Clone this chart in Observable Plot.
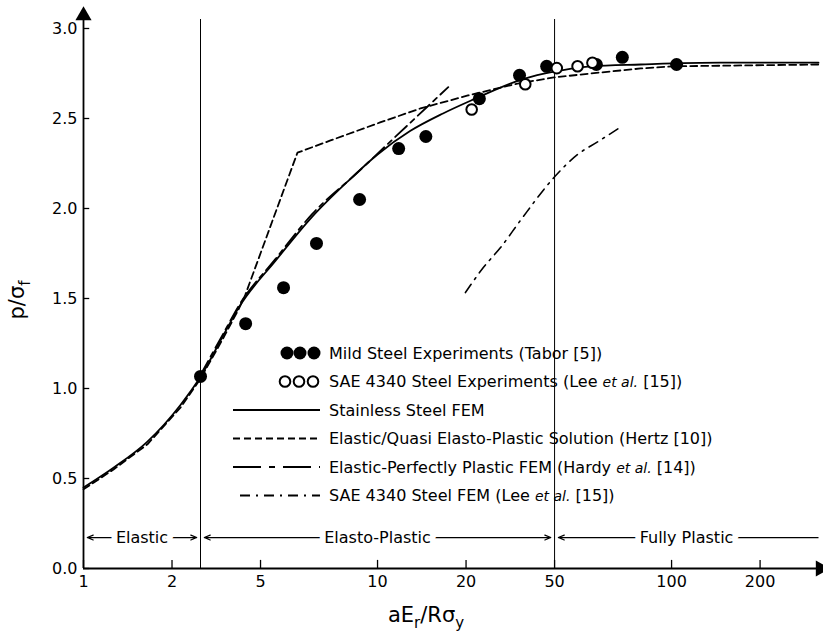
<!DOCTYPE html>
<html>
<head>
<meta charset="utf-8">
<script src="https://cdn.jsdelivr.net/npm/d3@7"></script>
<script src="https://cdn.jsdelivr.net/npm/@observablehq/plot@0.6"></script>
<style>
  body { margin: 0; background: #fff; }
  #chart { width: 823px; height: 640px; }
</style>
</head>
<body>
<div id="chart"></div>
<script>
// ---- Axis ticks (as printed on the reference) ----
const xTickValues = [1, 2, 4, 10, 20, 40, 100, 200];
const xTickLabels = ["1", "2", "5", "10", "20", "50", "100", "200"];
const yTickValues = [0, 0.5, 1, 1.5, 2, 2.5, 3];
const yTickLabels = ["0.0", "0.5", "1.0", "1.5", "2.0", "2.5", "3.0"];

// ---- Experiments ----
const mildX = [2.5, 3.56, 4.79, 6.2, 8.69, 11.8, 14.6, 22.2, 30.4, 37.6, 55.5, 68, 104];
const mildY = [1.067, 1.36, 1.56, 1.806, 2.05, 2.333, 2.40, 2.61, 2.74, 2.79, 2.80, 2.84, 2.80];
const saeX = [20.9, 31.8, 40.7, 47.9, 53.8];
const saeY = [2.55, 2.69, 2.78, 2.79, 2.81];

// ---- FEM / theory curves ----
const stainlessX = [1, 1.265, 1.65, 2.14, 2.5, 3.0, 3.38, 4.5, 6.0, 7.91, 10, 12.9, 16.7, 20.8, 31.4, 39.8, 53, 78.5, 147, 316];
const stainlessY = [0.45, 0.56, 0.705, 0.91, 1.065, 1.30, 1.452, 1.71, 1.955, 2.15, 2.30, 2.43, 2.528, 2.60, 2.72, 2.76, 2.79, 2.80, 2.81, 2.81];
const hertzX = [1, 1.265, 1.65, 2.14, 2.5, 3.0, 3.38, 3.55, 5.34, 6.92, 10.2, 14.0, 20.3, 29.9, 39.8, 53, 78.5, 101, 316];
const hertzY = [0.44, 0.55, 0.69, 0.895, 1.055, 1.285, 1.445, 1.52, 2.31, 2.378, 2.478, 2.556, 2.628, 2.694, 2.728, 2.75, 2.778, 2.79, 2.80];
const hardyX = [2.5, 3.0, 3.38, 4.5, 6.0, 8.55, 11.7, 17.4];
const hardyY = [1.075, 1.31, 1.462, 1.72, 1.97, 2.2, 2.41, 2.674];
const sae4340X = [19.9, 22.9, 26.2, 30.6, 39.8, 47.9, 56, 66.2];
const sae4340Y = [1.533, 1.672, 1.783, 1.933, 2.172, 2.30, 2.37, 2.446];

// ---- Regions ----
const regionNames = ["Elastic", "Elasto-Plastic", "Fully Plastic"];
const regionBounds = [1, 2.5, 40, 316];
const regionRightArrow = [true, true, false];
const regionLevel = 0.172;

// ---- Legend ----
const legendLabels = [
  "Mild Steel Experiments (Tabor [5])",
  "SAE 4340 Steel Experiments (Lee et al. [15])",
  "Stainless Steel FEM",
  "Elastic/Quasi Elasto-Plastic Solution (Hertz [10])",
  "Elastic-Perfectly Plastic FEM (Hardy et al. [14])",
  "SAE 4340 Steel FEM (Lee et al. [15])"
];

// ---- build tables ----
const zip = (xs, ys) => xs.map((x, i) => ({x, y: ys[i]}));
const mild = zip(mildX, mildY);
const sae = zip(saeX, saeY);
const stainless = zip(stainlessX, stainlessY);
const hertz = zip(hertzX, hertzY);
const hardy = zip(hardyX, hardyY);
const sae4340 = zip(sae4340X, sae4340Y);

const xLabelOf = new Map(xTickValues.map((v, i) => [v, xTickLabels[i]]));
const yLabelOf = new Map(yTickValues.map((v, i) => [v, yTickLabels[i]]));

const regions = regionNames.map((name, i) => {
  const a = regionBounds[i], b = regionBounds[i + 1];
  return {name, from: a, to: b, mid: Math.sqrt(a * b), right: regionRightArrow[i]};
});
const arrowsLeft = regions.map(r => ({x1: r.mid, x2: r.from * 1.03}));
const arrowsRight = regions.filter(r => r.right).map(r => ({x1: r.mid, x2: r.to / 1.03}));
const linksRight = regions.filter(r => !r.right).map(r => ({x1: r.mid, x2: r.to}));

const xMax = regionBounds[regionBounds.length - 1];
const FONT = "DejaVu Sans";

const chart = Plot.plot({
  width: 823,
  height: 640,
  marginLeft: 83,
  marginRight: 5,
  marginTop: 10,
  marginBottom: 72,
  style: {fontFamily: FONT, fontSize: "16px", background: "white", color: "black", overflow: "visible"},
  x: {type: "log", domain: [1, xMax]},
  y: {domain: [0, 3.1]},
  marks: [
    // region boundaries
    Plot.ruleX(regionBounds.slice(1, -1), {y1: 0, y2: 3.05, stroke: "black", strokeWidth: 1}),
    // axes lines + arrowheads
    Plot.ruleY([0], {stroke: "black", strokeWidth: 1.8}),
    Plot.ruleX([1], {stroke: "black", strokeWidth: 1.8}),
    Plot.dot([{x: xMax, y: 0}], {x: "x", y: "y", symbol: "triangle", rotate: 90, r: 6, fill: "black", dx: 2}),
    Plot.dot([{x: 1, y: 3.1}], {x: "x", y: "y", symbol: "triangle", rotate: 0, r: 6, fill: "black", dy: 5}),
    // inward tick marks
    Plot.ruleX(xTickValues, {y1: 0, y2: 0.045, stroke: "black", strokeWidth: 1.3}),
    Plot.ruleY(yTickValues, {x1: 1, x2: 1.05, stroke: "black", strokeWidth: 1.3}),
    Plot.axisX({ticks: xTickValues, tickFormat: d => xLabelOf.get(d), tickSize: 0, tickPadding: 7, label: null}),
    Plot.axisY({ticks: yTickValues, tickFormat: d => yLabelOf.get(d), tickSize: 0, tickPadding: 6, label: null}),
    // region arrows
    Plot.arrow(arrowsLeft, {x1: "x1", x2: "x2", y1: regionLevel, y2: regionLevel, stroke: "black", strokeWidth: 1.2, headLength: 8, headAngle: 45}),
    Plot.arrow(arrowsRight, {x1: "x1", x2: "x2", y1: regionLevel, y2: regionLevel, stroke: "black", strokeWidth: 1.2, headLength: 8, headAngle: 45}),
    Plot.link(linksRight, {x1: "x1", x2: "x2", y1: regionLevel, y2: regionLevel, stroke: "black", strokeWidth: 1.2}),
    Plot.text(regions, {x: "mid", y: regionLevel, text: "name", fill: "black", stroke: "white", strokeWidth: 12, fontSize: 16, fontFamily: FONT}),
    // curves
    Plot.line(hertz, {x: "x", y: "y", stroke: "black", strokeWidth: 1.8, strokeDasharray: "7,4"}),
    Plot.line(hardy, {x: "x", y: "y", stroke: "black", strokeWidth: 1.8, strokeDasharray: "16,5,5,5", curve: "monotone-x"}),
    Plot.line(stainless, {x: "x", y: "y", stroke: "black", strokeWidth: 1.8, curve: "monotone-x"}),
    Plot.line(sae4340, {x: "x", y: "y", stroke: "black", strokeWidth: 1.6, strokeDasharray: "10,6,2,6", curve: "monotone-x"}),
    // experiments
    Plot.dot(mild, {x: "x", y: "y", r: 6.5, fill: "black", stroke: "none"}),
    Plot.dot(sae, {x: "x", y: "y", r: 5.3, fill: "white", stroke: "black", strokeWidth: 2})
  ]
});

document.getElementById("chart").appendChild(chart);

// ---- axis titles (with subscripts) ----
const svg = d3.select(chart);
const yt = svg.append("text")
  .attr("transform", "translate(24,300) rotate(-90)")
  .attr("text-anchor", "middle")
  .attr("font-family", FONT).attr("font-size", 21).attr("fill", "black");
yt.append("tspan").text("p/σ");
yt.append("tspan").attr("font-size", 15).attr("dy", 6).text("f");

const xt = svg.append("text")
  .attr("x", 426).attr("y", 622)
  .attr("text-anchor", "middle")
  .attr("font-family", FONT).attr("font-size", 21).attr("fill", "black");
xt.append("tspan").text("aE");
xt.append("tspan").attr("font-size", 15).attr("dy", 6).text("r");
xt.append("tspan").attr("dy", -6).text("/Rσ");
xt.append("tspan").attr("font-size", 15).attr("dy", 6).text("y");

// ---- legend ----
const lg = svg.append("g").attr("font-family", FONT).attr("font-size", 16).attr("fill", "black").attr("text-anchor", "start");
const rowY = i => 353 + i * 28.5;
const sampleX1 = 233, sampleX2 = 320, textX = 329;
const legendStyles = [
  {kind: "dots", fill: "black", r: 6.5, xs: [287, 300, 314]},
  {kind: "dots", fill: "white", r: 5.3, xs: [285, 299, 313]},
  {kind: "line", dash: null},
  {kind: "line", dash: "7,4"},
  {kind: "line", dash: "28,8,6,8"},
  {kind: "line", dash: "10,6,2,6", start: 240}
];
legendLabels.forEach((label, i) => {
  const y = rowY(i);
  const st = legendStyles[i];
  if (st.kind === "dots") {
    st.xs.forEach(cx => lg.append("circle").attr("cx", cx).attr("cy", y).attr("r", st.r)
      .attr("fill", st.fill).attr("stroke", "black").attr("stroke-width", st.fill === "white" ? 2 : 0));
  } else {
    const l = lg.append("line").attr("x1", st.start || sampleX1).attr("x2", sampleX2)
      .attr("y1", y).attr("y2", y).attr("stroke", "black").attr("stroke-width", 1.8);
    if (st.dash) l.attr("stroke-dasharray", st.dash);
  }
  const t = lg.append("text").attr("x", textX).attr("y", y).attr("dy", "0.36em").attr("text-anchor", "start");
  const parts = label.split("et al.");
  parts.forEach((p, k) => {
    t.append("tspan").text(p);
    if (k < parts.length - 1) t.append("tspan").attr("font-style", "italic").attr("font-size", 14).text("et al.");
  });
});
</script>
</body>
</html>
